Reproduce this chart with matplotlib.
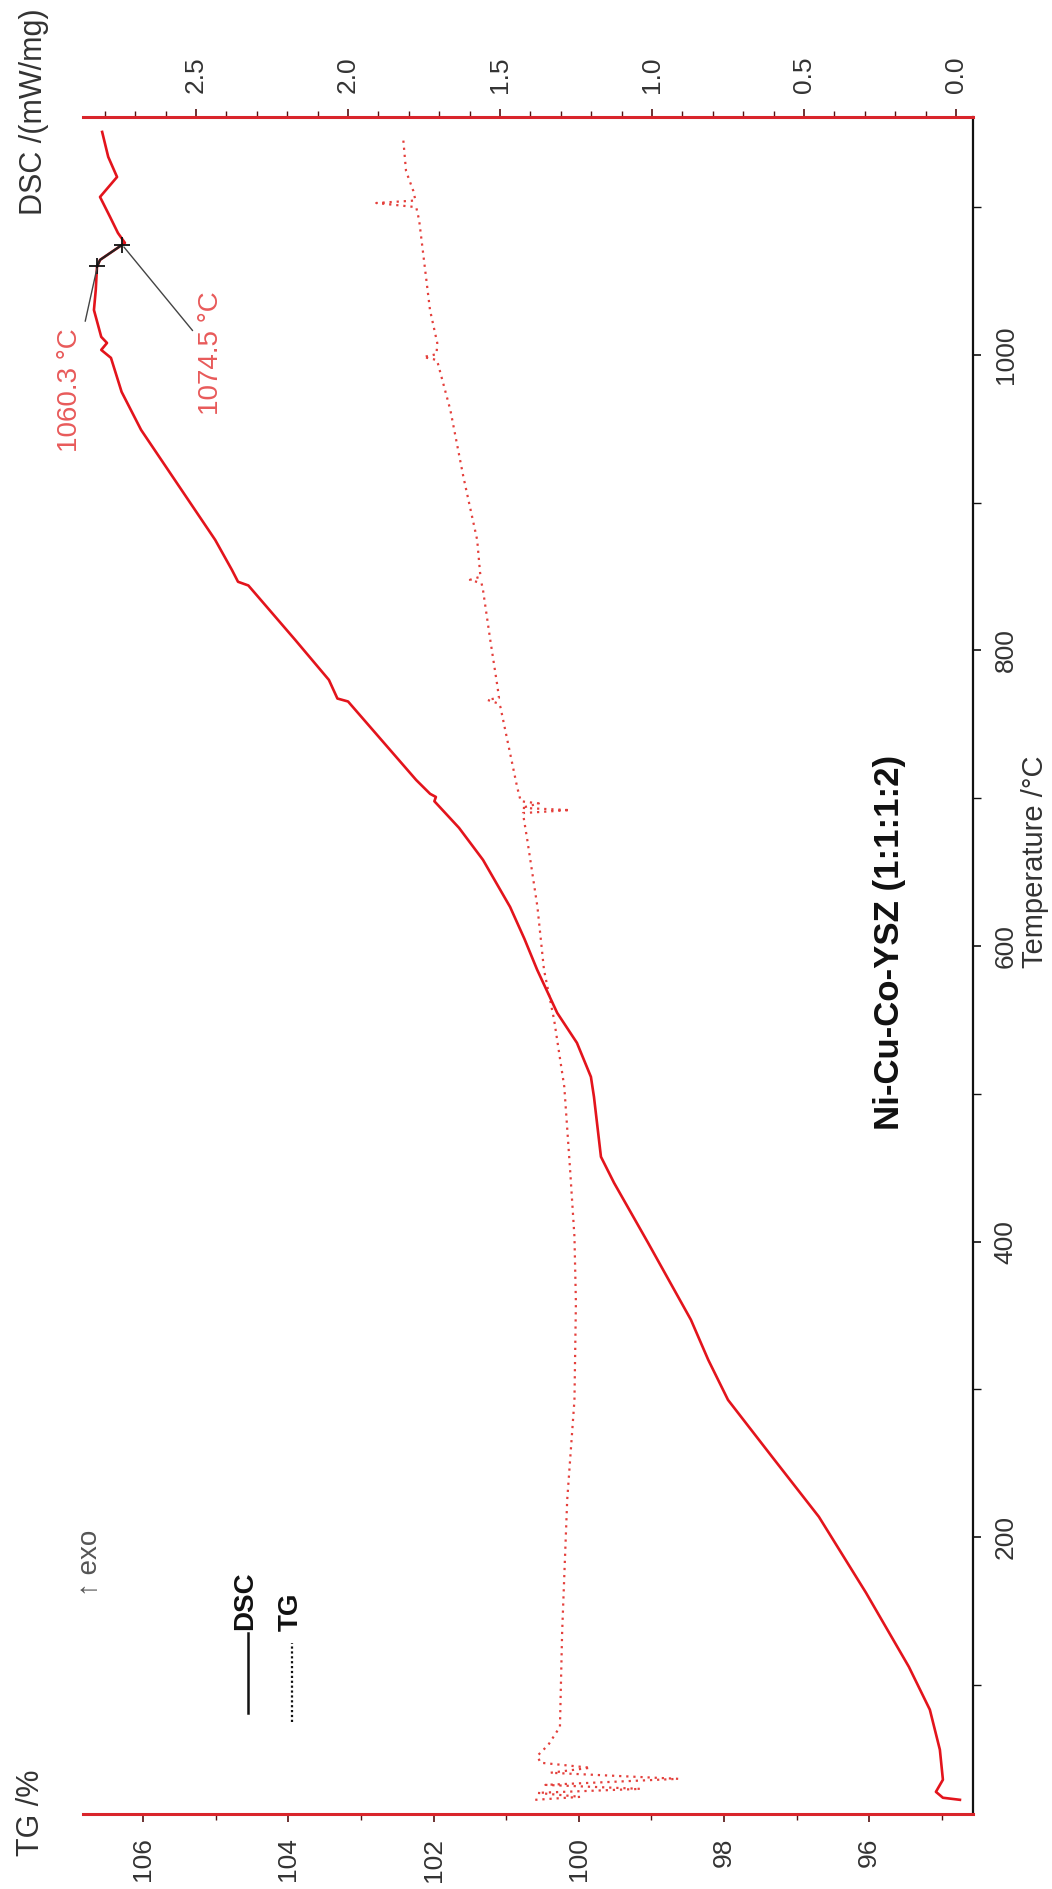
import numpy as np
import matplotlib
matplotlib.use("Agg")
import matplotlib.pyplot as plt
from matplotlib.ticker import MultipleLocator
from matplotlib.lines import Line2D

plt.rcParams["font.family"] = ["Liberation Sans", "DejaVu Sans"]

T_DSC = [22.3, 23.7, 27.7, 35.9, 56.2, 83.3, 112.3, 162.4, 213.8, 254.4,
         292.9, 320.0, 347.1, 399.2, 439.8, 457.4, 498.0, 511.5, 534.5, 554.8,
         584.0, 605.0, 626.5, 658.3, 680.0, 698.0, 700.9, 703.0, 712.4, 765.5,
         767.5, 780.1, 807.2, 844.0, 846.5, 854.5, 874.8, 949.3, 975.0, 998.0,
         1003.4, 1008.1, 1012.2, 1030.4, 1044.0, 1059.5, 1064.3, 1075.8, 1082.5, 1093.4,
         1106.9, 1120.4, 1134.0, 1150.9]
DSC = [-0.013, 0.043, 0.066, 0.043, 0.053, 0.086, 0.155, 0.296, 0.451, 0.605,
       0.750, 0.815, 0.872, 1.013, 1.125, 1.168, 1.191, 1.201, 1.247, 1.312,
       1.378, 1.420, 1.467, 1.556, 1.635, 1.716, 1.711, 1.730, 1.776, 2.000,
       2.035, 2.063, 2.174, 2.328, 2.362, 2.382, 2.437, 2.681, 2.745, 2.780,
       2.812, 2.793, 2.812, 2.836, 2.830, 2.826, 2.816, 2.734, 2.757, 2.783,
       2.816, 2.760, 2.789, 2.809]

T_TG = [22.3, 24.3, 27.0, 29.7, 32.4, 36.5, 40.6, 44.0, 47.4, 52.1,
        59.5, 71.7, 135.3, 225.2, 292.9, 358.6, 403.2, 448.6, 504.7, 550.0,
        584.0, 626.5, 671.9, 690.0, 692.0, 693.5, 696.5, 698.0, 707.7, 761.8,
        764.0, 766.6, 768.0, 775.4, 807.2, 841.0, 845.5, 847.8, 850.0, 852.5,
        874.8, 917.5, 962.8, 994.0, 996.6, 998.6, 1000.5, 1008.1, 1030.4, 1091.3,
        1100.0, 1102.8, 1104.5, 1111.0, 1124.4, 1146.7]
TG = [100.60, 99.98, 100.57, 99.15, 100.46, 98.63, 100.39, 99.84, 100.53, 100.57,
      100.42, 100.26, 100.23, 100.16, 100.06, 100.04, 100.06, 100.12, 100.20, 100.34,
      100.48, 100.57, 100.71, 100.77, 100.12, 100.79, 100.55, 100.80, 100.85, 101.08,
      101.10, 101.26, 101.10, 101.12, 101.22, 101.32, 101.34, 101.50, 101.35, 101.36,
      101.40, 101.59, 101.77, 101.94, 101.96, 102.14, 101.96, 101.95, 102.05, 102.20,
      102.24, 102.79, 102.25, 102.28, 102.38, 102.42]

PEAKS_T = [1060.3, 1074.5]
PEAK_LABELS = ["1060.3 °C", "1074.5 °C"]

T_LIM = (12.7, 1161.0)
TG_LIM = (106.83, 94.57)
DSC_LIM = (2.872, -0.056)

RED, DOT_RED, AX_RED, GREY = "#e3141c", "#e4403c", "#d9252b", "#333333"
W, H = 1052, 1889


def fx(px):
    return px / W


def fy(py):
    return 1 - py / H


fig = plt.figure(figsize=(W / 100, H / 100), dpi=100)
fig.patch.set_facecolor("white")
ax = fig.add_axes([fx(83), fy(1814), (973 - 83) / W, (1814 - 117) / H])
ax2 = ax.twiny()

# TG on the bottom axis, temperature on the right (plot turned 90°)
ax.plot(TG, T_TG, color=DOT_RED, lw=1.6, linestyle=(0, (1, 2.2)))
ax2.plot(DSC, T_DSC, color=RED, lw=1.9)

ax.set_xlim(*TG_LIM)
ax2.set_xlim(*DSC_LIM)
ax.set_ylim(*T_LIM)

# black stretch between the two evaluated peaks + markers
seg_mask = [(t > PEAKS_T[0]) and (t < PEAKS_T[1]) for t in T_DSC]
peak_D = np.interp(PEAKS_T, T_DSC, DSC)
seg_T = [PEAKS_T[0]] + [t for t, m in zip(T_DSC, seg_mask) if m] + [PEAKS_T[1]]
seg_D = [peak_D[0]] + [d for d, m in zip(DSC, seg_mask) if m] + [peak_D[1]]
ax2.plot(seg_D, seg_T, color="#222222", lw=1.6)
ax2.plot(peak_D, PEAKS_T, "+", color="#111111", ms=11, mew=1.3)

for a in (ax, ax2):
    for s in a.spines.values():
        s.set_visible(False)
ax.spines["bottom"].set_visible(True)
ax.spines["bottom"].set_color(AX_RED)
ax.spines["bottom"].set_linewidth(2.2)
ax.spines["right"].set_visible(True)
ax.spines["right"].set_color("#111111")
ax.spines["right"].set_linewidth(1.6)
ax2.spines["top"].set_visible(True)
ax2.spines["top"].set_color(AX_RED)
ax2.spines["top"].set_linewidth(2.2)

ax.xaxis.set_major_locator(MultipleLocator(2))
ax.xaxis.set_minor_locator(MultipleLocator(1))
ax2.xaxis.set_major_locator(MultipleLocator(0.5))
ax2.xaxis.set_minor_locator(MultipleLocator(0.1))
ax.yaxis.set_major_locator(MultipleLocator(200))
ax.yaxis.set_minor_locator(MultipleLocator(100))
ax.xaxis.set_major_formatter(lambda v, p: f"{v:.0f}")
ax2.xaxis.set_major_formatter(lambda v, p: f"{v:.1f}")
ax.yaxis.set_major_formatter(lambda v, p: f"{v:.0f}")

ax.yaxis.tick_right()
ax.tick_params(axis="y", which="both", left=False, right=True, direction="out",
               color="#111111", labelcolor=GREY, labelsize=19, labelrotation=90, pad=9)
ax.tick_params(axis="y", which="major", length=6, width=1.2)
ax.tick_params(axis="y", which="minor", length=6, width=1.0)
ax.tick_params(axis="x", which="both", direction="out", color="#551111",
               labelcolor=GREY, labelsize=19, labelrotation=90, pad=11)
ax.tick_params(axis="x", which="major", length=6, width=1.2)
ax.tick_params(axis="x", which="minor", length=4, width=1.0)
ax2.tick_params(axis="x", which="both", direction="out", color="#551111",
                labelcolor=GREY, labelsize=19, labelrotation=90, pad=11)
ax2.tick_params(axis="x", which="major", length=6, width=1.2)
ax2.tick_params(axis="x", which="minor", length=4, width=1.0)
ax2.tick_params(axis="y", which="both", left=False, right=False,
                labelleft=False, labelright=False)
ax.set_facecolor("none")

fig.canvas.draw()
plt.setp(ax.get_yticklabels(), va="center")

# ── axis titles, annotations, legend ───────────────────────────────────────
txt = dict(rotation=90, ha="center", va="center")
fig.text(fx(34), fy(112), "DSC /(mW/mg)", fontsize=22, color=GREY, **txt)
fig.text(fx(31), fy(1813), "TG /%", fontsize=22, color=GREY, **txt)
fig.text(fx(1035), fy(862), "Temperature /°C", fontsize=21, color=GREY, **txt)
fig.text(fx(890), fy(942), "Ni-Cu-Co-YSZ (1:1:1:2)", fontsize=25,
         weight="bold", color="#111111", **txt)
fig.text(fx(90), fy(1563), "↑ exo", fontsize=20, color="#555555", **txt)

label_pos = [(70, 390), (211, 353)]
for lab, (px, py), d, t in zip(PEAK_LABELS, label_pos, peak_D, PEAKS_T):
    ax2.annotate(lab, xy=(d, t), xytext=(fx(px), fy(py)),
                 textcoords="figure fraction", fontsize=20, color="#e85a5a",
                 arrowprops=dict(arrowstyle="-", color="#444444", lw=1.0,
                                 shrinkA=3, shrinkB=2), **txt)

fig.add_artist(Line2D([fx(248), fx(248)], [fy(1713), fy(1633)],
                      transform=fig.transFigure, color="#111111", lw=1.8))
fig.add_artist(Line2D([fx(292), fx(292)], [fy(1722), fy(1643)],
                      transform=fig.transFigure, color="#111111", lw=1.6,
                      linestyle=(0, (1, 1.2))))
fig.text(fx(245), fy(1601), "DSC", fontsize=20, weight="bold", color="#111111", **txt)
fig.text(fx(291), fy(1612), "TG", fontsize=20, weight="bold", color="#111111", **txt)

fig.savefig("out.png", dpi=100, facecolor="white")
